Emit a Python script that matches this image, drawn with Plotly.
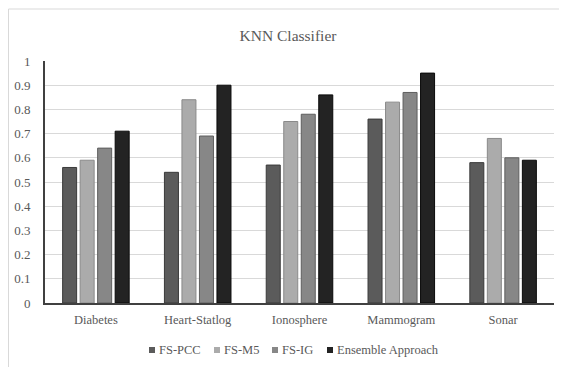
import plotly.graph_objects as go

categories = ["Diabetes", "Heart-Statlog", "Ionosphere", "Mammogram", "Sonar"]
fs_pcc = [0.56, 0.54, 0.57, 0.76, 0.58]
fs_m5 = [0.59, 0.84, 0.75, 0.83, 0.68]
fs_ig = [0.64, 0.69, 0.78, 0.87, 0.60]
ensemble = [0.71, 0.90, 0.86, 0.95, 0.59]
series_names = ["FS-PCC", "FS-M5", "FS-IG", "Ensemble Approach"]
y_ticks = [0, 0.1, 0.2, 0.3, 0.4, 0.5, 0.6, 0.7, 0.8, 0.9, 1]
y_tick_labels = ["0", "0.1", "0.2", "0.3", "0.4", "0.5", "0.6", "0.7", "0.8", "0.9", "1"]

series_values = [fs_pcc, fs_m5, fs_ig, ensemble]
fill_colors = ["#5b5b5b", "#ababab", "#878787", "#232323"]
line_colors = ["#3a3a3a", "#8a8a8a", "#5e5e5e", "#0a0a0a"]

# The page body has an 8px margin, so the figure is drawn 8px in from the window edge.
OFF = 8
W, H = 567 - OFF, 367 - OFF
L, R, T, B = 45 - OFF, 13, 61 - OFF, 64
pw, ph = W - L - R, H - T - B

def px_x(x):
    # x given in window pixels
    return (x - OFF - L) / pw

def px_y(y):
    # y given in window pixels
    return (H - B - (y - OFF)) / ph

fig = go.Figure()
for name, vals, col, lc in zip(series_names, series_values, fill_colors, line_colors):
    fig.add_trace(go.Bar(x=categories, y=vals, name=name,
                         marker=dict(color=col, line=dict(color=lc, width=1))))

font_fam = "Liberation Serif, Times New Roman, serif"
fig.update_layout(
    width=W, height=H,
    margin=dict(l=L, r=R, t=T, b=B, autoexpand=False),
    paper_bgcolor="white", plot_bgcolor="white",
    barmode="group", bargap=0.312, bargroupgap=0.2,
    font=dict(family=font_fam, color="#595959", size=13),
    title=dict(text="KNN Classifier", x=(288 - OFF) / W, xref="container", xanchor="center",
               y=1 - (36 - OFF) / H, yref="container", yanchor="middle",
               font=dict(family=font_fam, size=15.5, color="#595959")),
    showlegend=False,
    xaxis=dict(showline=True, linecolor="#404040", linewidth=2, ticks="",
               tickfont=dict(family=font_fam, size=12.5, color="#595959"),
               ticklabelstandoff=4, showgrid=False, automargin=False),
    yaxis=dict(range=[0, 1], tickvals=y_ticks, ticktext=y_tick_labels,
               showline=True, linecolor="#404040", linewidth=2, ticks="",
               gridcolor="#d9d9d9", gridwidth=1, zeroline=False,
               tickfont=dict(family=font_fam, size=13, color="#595959"),
               ticklabelstandoff=10, automargin=False),
)

# outer chart frame
fig.add_shape(type="rect", xref="paper", yref="paper",
              x0=px_x(8.5), x1=px_x(562), y0=px_y(380), y1=px_y(9),
              line=dict(color="#d9d9d9", width=1), fillcolor="rgba(0,0,0,0)", layer="below")

# legend (keys + labels)
legend_text_x = [157, 222, 280, 335]
legend_y = 350
for name, col, tx in zip(series_names, fill_colors, legend_text_x):
    fig.add_shape(type="rect", xref="paper", yref="paper",
                  x0=px_x(tx - 8), x1=px_x(tx - 2), y0=px_y(legend_y + 3), y1=px_y(legend_y - 3),
                  line=dict(width=0), fillcolor=col)
    fig.add_annotation(text=name, xref="paper", yref="paper",
                       x=px_x(tx), y=px_y(legend_y), xanchor="left", yanchor="middle",
                       showarrow=False,
                       font=dict(family=font_fam, size=12.5, color="#595959"))

fig.write_html("out.html")
